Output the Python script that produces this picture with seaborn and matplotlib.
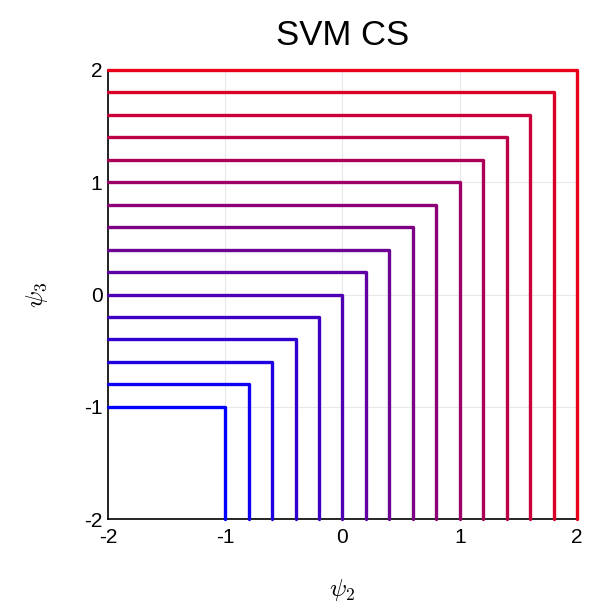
import numpy as np
import pandas as pd
import seaborn as sns
import matplotlib.pyplot as plt

# contour levels (L-shaped iso-lines)
levels = [-1.0, -0.8, -0.6, -0.4, -0.2, 0.0, 0.2, 0.4, 0.6, 0.8, 1.0, 1.2, 1.4, 1.6, 1.8, 2.0]
lo = -2.0
ticks = [-2, -1, 0, 1, 2]

rows = []
for c in levels:
    rows.append({'x': lo, 'y': c, 'level': c, 'o': 0})
    rows.append({'x': c, 'y': c, 'level': c, 'o': 1})
    rows.append({'x': c, 'y': lo, 'level': c, 'o': 2})
data = pd.DataFrame(rows)

sns.set_style('white')
plt.rcParams['font.family'] = ['Liberation Sans', 'DejaVu Sans']
plt.rcParams['mathtext.fontset'] = 'cm'
plt.rcParams['axes.unicode_minus'] = False

blue = np.array([0, 0, 255]) / 255
red = np.array([235, 0, 25]) / 255
pal = {c: tuple(blue + (red - blue) * (c - levels[0]) / (levels[-1] - levels[0])) for c in levels}

fig = plt.figure(figsize=(5.9, 6.03), dpi=100)
ax = fig.add_axes([0.183, 0.139, 0.795, 0.745])
sns.lineplot(data=data, x='x', y='y', hue='level', palette=pal, sort=False,
             estimator=None, units='level', legend=False, lw=2.4, ax=ax,
             solid_joinstyle='round', clip_on=False, zorder=3)

ax.set_xlim(-2, 2)
ax.set_ylim(-2, 2)
ax.set_xticks(ticks)
ax.set_yticks(ticks)
ax.set_xticklabels([str(t) for t in ticks])
ax.set_yticklabels([str(t) for t in ticks])
ax.tick_params(length=0, labelsize=15, labelcolor='black')
ax.tick_params(axis='x', pad=6)
ax.tick_params(axis='y', pad=4)
ax.grid(True, color='#e8e8e8', lw=0.8)
for s in ['top', 'right']:
    ax.spines[s].set_visible(False)
for s in ['left', 'bottom']:
    ax.spines[s].set_color('black')
    ax.spines[s].set_linewidth(1.2)
ax.set_xlabel(r'$\psi_2$', fontsize=18, color='black')
ax.set_ylabel(r'$\psi_3$', fontsize=18, color='black')
ax.xaxis.set_label_coords(0.5, -0.128)
ax.yaxis.set_label_coords(-0.124, 0.5)
ax.set_title('SVM CS', fontsize=25, pad=18, color='black')

plt.savefig('out.png', dpi=100)
